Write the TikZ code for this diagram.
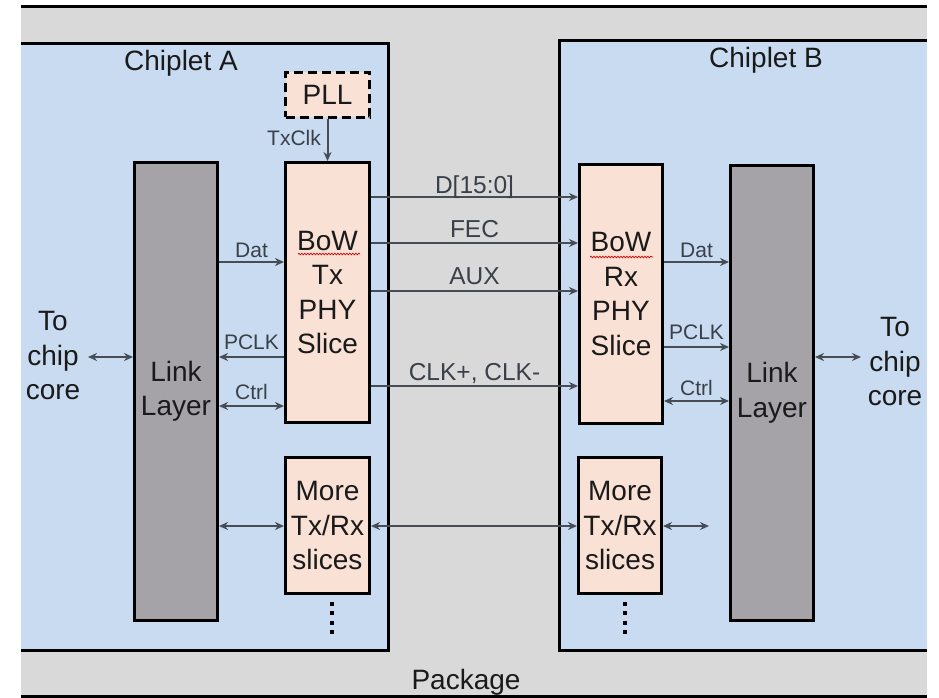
\documentclass[tikz,border=0pt]{standalone}
\usepackage{fontspec}
\setmainfont{Liberation Sans}
\usetikzlibrary{arrows.meta,decorations.pathmorphing,calc}
\definecolor{pkggray}{HTML}{D9D9D9}
\definecolor{chipblue}{HTML}{C8DBF0}
\definecolor{peach}{HTML}{F9E1D6}
\definecolor{linkgray}{HTML}{A6A3A8}
\definecolor{arrowcol}{HTML}{474D55}
\definecolor{labelcol}{HTML}{3A4049}
\definecolor{maintext}{HTML}{1A1A1A}
\newcommand\mainfs{\fontsize{28}{34.5}\selectfont}
\newcommand\wirefs{\fontsize{24.5}{29}\selectfont}
\newcommand\smallfs{\fontsize{21}{25}\selectfont}
\begin{document}
\begin{tikzpicture}[x=1pt,y=-1pt,
  blk/.style={draw=black, line width=3pt, inner sep=2pt, align=center, font=\mainfs, text=maintext, anchor=north west},
  phy/.style={blk, fill=peach},
  linkbox/.style={blk, fill=linkgray},
  arr/.style={draw=arrowcol, line width=2pt, -{Stealth[length=9pt,width=8pt]}},
  darr/.style={draw=arrowcol, line width=2pt, {Stealth[length=9pt,width=8pt]}-{Stealth[length=9pt,width=8pt]}},
  lbl/.style={font=\smallfs, text=labelcol, anchor=base, inner sep=0pt},
  wlbl/.style={font=\wirefs, text=labelcol, anchor=base, inner sep=0pt},
  ttl/.style={font=\mainfs, text=maintext, inner sep=0pt, align=center},
  dotcol/.style={draw=black, line width=4pt, dash pattern=on 4pt off 5.3pt},
  frame/.style={draw=black, line width=3pt}
]
\useasboundingbox (0,0) rectangle (939,698);
% package
\fill[pkggray] (21,7) rectangle (927,696);
\draw[frame] (21,7) -- (927,7);
\draw[frame] (21,696) -- (927,696);
% chiplets
\fill[chipblue] (21,44) rectangle (388,650);
\draw[frame] (21,44) -- (388,44) -- (388,650) -- (21,650);
\fill[chipblue] (559,41) rectangle (927,650);
\draw[frame] (927,41) -- (559,41) -- (559,650) -- (927,650);
\node[ttl, anchor=base] (tA) at (181,71) {Chiplet A};
\node[ttl, anchor=base] (tB) at (766,68) {Chiplet B};
\node[ttl, anchor=base] (tP) at (466,689) {Package};

% blocks
\node[linkbox, minimum width=83pt, minimum height=458pt] (linkA) at (133,161) {Link\\Layer};
\node[phy, minimum width=84pt, minimum height=260pt] (tx) at (284,161) {BoW\\Tx\\PHY\\Slice};
\node[phy, minimum width=84pt, minimum height=45pt, dash pattern=on 9pt off 5pt] (pll) at (284,71) {PLL};
\node[phy, minimum width=84pt, minimum height=136pt] (moreA) at (284,456) {More\\Tx/Rx\\slices};
\node[phy, minimum width=83pt, minimum height=259pt] (rx) at (578,163) {BoW\\Rx\\PHY\\Slice};
\node[linkbox, minimum width=83pt, minimum height=455pt] (linkB) at (729,164) {Link\\Layer};
\node[phy, minimum width=83pt, minimum height=136pt] (moreB) at (577,456) {More\\Tx/Rx\\slices};

% spell-check underlines
\draw[red!80!black, line width=0.7pt, decorate, decoration={snake, amplitude=0.8pt, segment length=3pt}] (298,254) -- (360,254);
\draw[red!80!black, line width=0.7pt, decorate, decoration={snake, amplitude=0.8pt, segment length=3pt}] (590,257) -- (653,257);

% chip core texts
\node[ttl] (coreA) at (53,356) {To\\chip\\core};
\node[ttl] (coreB) at (895,362) {To\\chip\\core};
\coordinate (cA) at (88,357);
\coordinate (cB) at (861,357);
\draw[darr] (cA) -- (linkA.west |- cA);
\draw[darr] (linkB.east |- cB) -- (cB);

% PLL
\draw[arr] (pll.south) -- (tx.north);
\node[lbl] (lTx) at (294,145) {TxClk};

% y levels
\coordinate (yDat) at (0,262);
\coordinate (yPA) at (0,357);
\coordinate (yCA) at (0,406);
\coordinate (yPB) at (0,347);
\coordinate (yCB) at (0,401);
\coordinate (yD) at (0,197);
\coordinate (yF) at (0,243);
\coordinate (yX) at (0,291);
\coordinate (yK) at (0,386);
\coordinate (yM) at (0,526);

% left side
\draw[arr] (linkA.east |- yDat) -- node[lbl, yshift=5pt] (lDatA) {Dat} (tx.west |- yDat);
\draw[arr] (tx.west |- yPA) -- node[lbl, yshift=8pt] (lPA) {PCLK} (linkA.east |- yPA);
\draw[darr] (linkA.east |- yCA) -- node[lbl, yshift=7pt] (lCA) {Ctrl} (tx.west |- yCA);

% wires
\draw[arr] (tx.east |- yD) -- node[wlbl, yshift=4pt] (lD) {D[15:0]} (rx.west |- yD);
\draw[arr] (tx.east |- yF) -- node[wlbl, yshift=6pt] (lF) {FEC} (rx.west |- yF);
\draw[arr] (tx.east |- yX) -- node[wlbl, yshift=7pt] (lX) {AUX} (rx.west |- yX);
\draw[arr] (tx.east |- yK) -- node[wlbl, yshift=6pt] (lK) {CLK+, CLK-} (rx.west |- yK);

% right side
\draw[arr] (rx.east |- yDat) -- node[lbl, yshift=5pt] (lDatB) {Dat} (linkB.west |- yDat);
\draw[arr] (rx.east |- yPB) -- node[lbl, yshift=8pt] (lPB) {PCLK} (linkB.west |- yPB);
\draw[darr] (rx.east |- yCB) -- node[lbl, yshift=6pt] (lCB) {Ctrl} (linkB.west |- yCB);

% more slices
\coordinate (mEnd) at (709,526);
\draw[darr] (linkA.east |- yM) -- (moreA.west |- yM);
\draw[darr] (moreA.east |- yM) -- (moreB.west |- yM);
\draw[darr] (moreB.east |- yM) -- (mEnd);

% dots
\draw[dotcol] ($(moreA.south)+(4.5,7)$) -- ++(0,32);
\draw[dotcol] ($(moreB.south)+(4.5,7)$) -- ++(0,32);
\end{tikzpicture}
\end{document}
